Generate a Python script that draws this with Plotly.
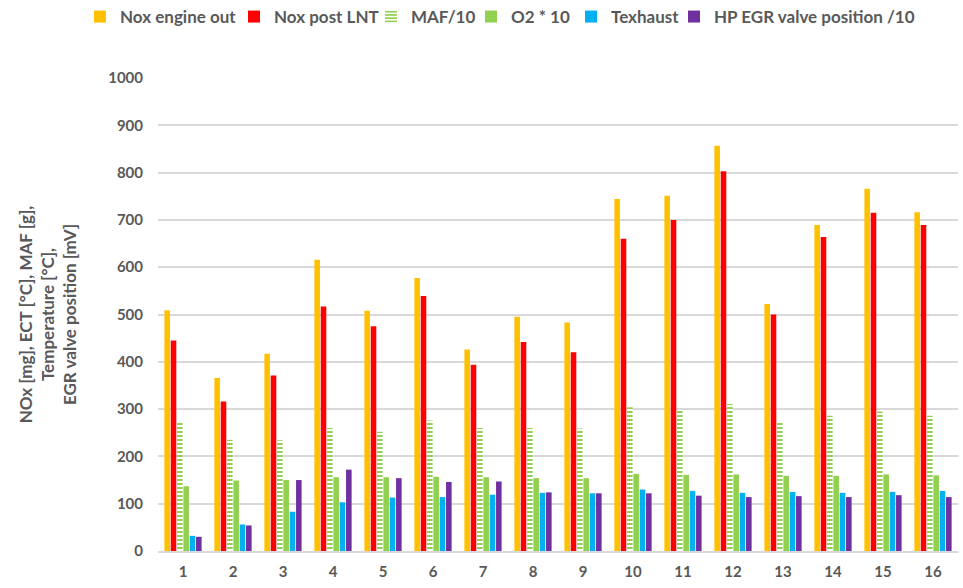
import plotly.graph_objects as go

# test points 1..16
categories = [str(i) for i in range(1, 17)]

nox_engine_out = [509, 366, 417, 616, 508, 577, 426, 495, 483, 744, 751, 857, 522, 689, 766, 716]
nox_post_lnt = [445, 316, 371, 517, 475, 539, 394, 442, 420, 660, 700, 803, 500, 664, 715, 689]
maf_10 = [271, 235, 234, 260, 252, 276, 260, 260, 259, 304, 297, 311, 271, 286, 295, 286]
o2_10 = [137, 149, 150, 156, 156, 157, 156, 154, 154, 163, 161, 162, 159, 159, 162, 160]
texhaust = [32, 56, 83, 103, 113, 114, 119, 123, 122, 130, 127, 123, 125, 123, 125, 127]
hp_egr_10 = [30, 54, 150, 172, 154, 146, 147, 124, 122, 122, 117, 114, 116, 114, 118, 114]

series_names = ["Nox engine out", "Nox post LNT", "MAF/10", "O2 * 10", "Texhaust",
                "HP EGR valve position /10"]
series_vals = [nox_engine_out, nox_post_lnt, maf_10, o2_10, texhaust, hp_egr_10]
colors = ["#FFC000", "#FF0000", "#92D050", "#92D050", "#00B0F0", "#7030A0"]
# where each legend text starts (px from the left of the page)
legend_text_x = [123, 277, 414, 514, 614, 717]

font_family = "Lato, 'Open Sans', sans-serif"
grey = "#595959"

fig = go.Figure()
legend_layout = {}
for i, (name, vals, col) in enumerate(zip(series_names, series_vals, colors)):
    if name == "MAF/10":
        marker = dict(color="white", line=dict(width=0),
                      pattern=dict(shape="-", fgcolor=col, bgcolor="white",
                                   size=4, solidity=0.5, fillmode="replace"))
    else:
        marker = dict(color=col, line=dict(width=0))
    lg = "legend" if i == 0 else f"legend{i + 1}"
    fig.add_trace(go.Bar(x=categories, y=vals, name="<b>" + name + "</b>",
                         marker=marker, legend=lg, showlegend=True))
    legend_layout[lg] = dict(
        orientation="h", xref="container", yref="container",
        x=(legend_text_x[i] - 43) / 963, xanchor="left",
        y=1 - 17 / 588, yanchor="middle",
        font=dict(size=17, color=grey, family=font_family),
        itemwidth=30, bgcolor="rgba(0,0,0,0)", visible=True,
    )

fig.update_layout(
    barmode="group",
    bargap=0.24,
    bargroupgap=0.12,
    width=963, height=588,
    plot_bgcolor="white",
    paper_bgcolor="white",
    margin=dict(l=158, r=5, t=78, b=37),
    font=dict(family=font_family, color=grey, size=15),
    showlegend=True,
    **legend_layout,
)

fig.update_yaxes(
    range=[0, 1000], dtick=100,
    showgrid=True, gridcolor="#D9D9D9", gridwidth=1.5,
    zeroline=False, showline=False,
    tickfont=dict(size=15, color=grey, family=font_family),
    tickprefix="<b>", ticksuffix="</b>",
    ticklabelstandoff=14,
    title=dict(text="<b>NOx [mg], ECT [°C], MAF [g],<br>Temperature [°C],<br>EGR valve position [mV]</b>",
               font=dict(size=17, color=grey, family=font_family), standoff=27),
)
fig.update_xaxes(
    showline=True, linecolor="#D9D9D9", linewidth=1.5,
    tickfont=dict(size=15, color=grey, family=font_family),
    tickprefix="<b>", ticksuffix="</b>",
    ticks="", ticklabelstandoff=6,
)

fig.write_html("out.html", config={"displayModeBar": False},
               post_script="document.body.style.margin='0';")
